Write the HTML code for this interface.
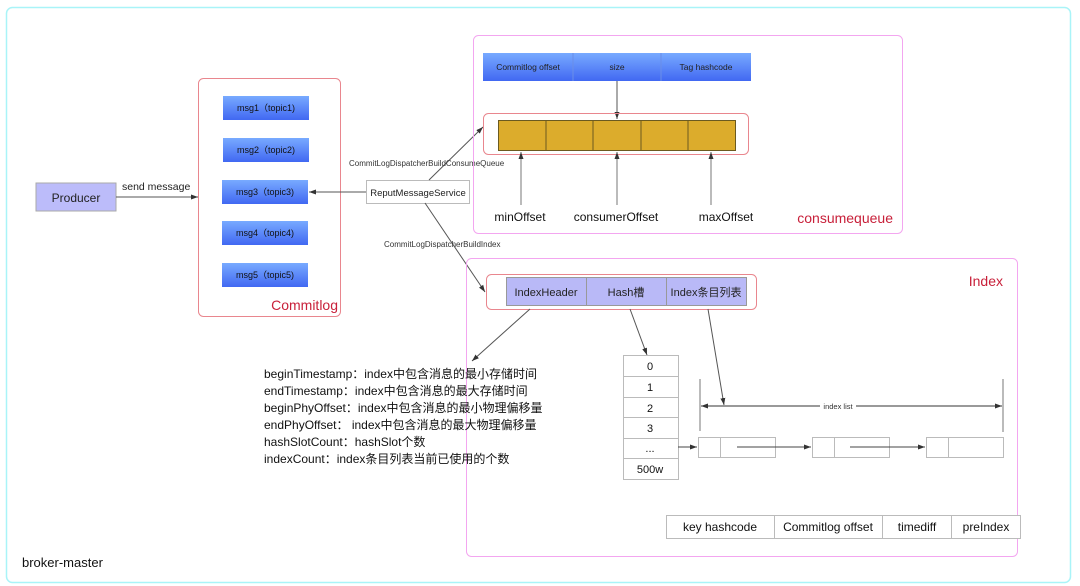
<!DOCTYPE html>
<html><head><meta charset="utf-8"><style>
html,body{margin:0;padding:0;background:#fff;}
svg{display:block;font-family:"Liberation Sans","Noto Sans CJK SC",sans-serif;}
</style></head><body>
<svg width="1080" height="586" viewBox="0 0 1080 586" xmlns="http://www.w3.org/2000/svg">
<defs>
<linearGradient id="bl" x1="0" y1="0" x2="0" y2="1"><stop offset="0" stop-color="#78aaff"/><stop offset="1" stop-color="#4168f2"/></linearGradient>
<marker id="ar" markerWidth="8" markerHeight="8" refX="7" refY="4" orient="auto" markerUnits="userSpaceOnUse"><path d="M0,1.5 L7,4 L0,6.5z" fill="#333"/></marker>
</defs>
<rect x="0" y="0" width="1080" height="586" fill="#fff"/>
<rect x="6.5" y="7.5" width="1064" height="575" rx="6" fill="none" stroke="#a9f4f8" stroke-width="1.5"/>

<!-- Producer -->
<rect x="36" y="183" width="80" height="28" fill="#bcbcfa" stroke="#aaa"/>
<text x="76" y="202" font-size="12" text-anchor="middle" fill="#222">Producer</text>
<text x="122" y="190" font-size="10.5" fill="#222">send message</text>
<line x1="116" y1="197" x2="198" y2="197" stroke="#555" marker-end="url(#ar)"/>

<!-- Commitlog -->
<rect x="198.5" y="78.5" width="142" height="238" rx="5" fill="none" stroke="#e9868e"/>
<g font-size="9" fill="#111" text-anchor="middle">
<rect x="223" y="96" width="86" height="24" fill="url(#bl)"/><text x="266" y="111">msg1（topic1)</text>
<rect x="223" y="138" width="86" height="24" fill="url(#bl)"/><text x="266" y="153">msg2（topic2)</text>
<rect x="222" y="180" width="86" height="24" fill="url(#bl)"/><text x="265" y="195">msg3（topic3)</text>
<rect x="222" y="221" width="86" height="24" fill="url(#bl)"/><text x="265" y="236">msg4（topic4)</text>
<rect x="222" y="263" width="86" height="24" fill="url(#bl)"/><text x="265" y="278">msg5（topic5)</text>
</g>
<text x="338" y="310" font-size="14" fill="#c8203a" text-anchor="end">Commitlog</text>

<!-- Reput -->
<rect x="366.5" y="180.5" width="103" height="23" fill="#fff" stroke="#bbb"/>
<text x="418" y="196" font-size="9.5" text-anchor="middle" fill="#222">ReputMessageService</text>
<line x1="366" y1="192" x2="309" y2="192" stroke="#555" marker-end="url(#ar)"/>
<line x1="429" y1="180" x2="483" y2="127" stroke="#555" marker-end="url(#ar)"/>
<line x1="425" y1="203" x2="485" y2="292" stroke="#555" marker-end="url(#ar)"/>
<text x="349" y="166" font-size="8" fill="#333">CommitLogDispatcherBuildConsumeQueue</text>
<text x="384" y="247" font-size="8" fill="#333">CommitLogDispatcherBuildIndex</text>

<!-- consumequeue -->
<rect x="473.5" y="35.5" width="429" height="198" rx="5" fill="none" stroke="#f3a6f0"/>
<rect x="483" y="53" width="268" height="28" fill="url(#bl)"/>
<line x1="573" y1="53" x2="573" y2="81" stroke="#6a8ee8"/><line x1="661" y1="53" x2="661" y2="81" stroke="#6a8ee8"/>
<g font-size="8.5" fill="#222" text-anchor="middle">
<text x="528" y="70">Commitlog offset</text><text x="617" y="70">size</text><text x="706" y="70">Tag hashcode</text></g>
<line x1="617" y1="81" x2="617" y2="119" stroke="#555" marker-end="url(#ar)"/>
<rect x="483.5" y="113.5" width="265" height="41" rx="5" fill="none" stroke="#e9868e"/>
<rect x="498.5" y="120.5" width="237" height="30" fill="#dcac2c" stroke="#6b5a20"/>
<g stroke="#6b5a20"><line x1="546" y1="120" x2="546" y2="151"/><line x1="593" y1="120" x2="593" y2="151"/><line x1="641" y1="120" x2="641" y2="151"/><line x1="688" y1="120" x2="688" y2="151"/></g>
<g stroke="#777"><line x1="521" y1="205" x2="521" y2="152" marker-end="url(#ar)"/><line x1="617" y1="205" x2="617" y2="152" marker-end="url(#ar)"/><line x1="711" y1="205" x2="711" y2="152" marker-end="url(#ar)"/></g>
<g font-size="12" fill="#111" text-anchor="middle"><text x="520" y="221">minOffset</text><text x="616" y="221">consumerOffset</text><text x="726" y="221">maxOffset</text></g>
<text x="893" y="223" font-size="14" fill="#c8203a" text-anchor="end">consumequeue</text>

<!-- Index -->
<rect x="466.5" y="258.5" width="551" height="298" rx="5" fill="none" stroke="#f3a6f0"/>
<text x="1003" y="286" font-size="14" fill="#c8203a" text-anchor="end">Index</text>
<rect x="486.5" y="274.5" width="270" height="35" rx="5" fill="none" stroke="#e9868e"/>
<rect x="506.5" y="277.5" width="240" height="28" fill="#b9b9f7" stroke="#999"/>
<line x1="586.5" y1="277" x2="586.5" y2="306" stroke="#999"/><line x1="666.5" y1="277" x2="666.5" y2="306" stroke="#999"/>
<g font-size="11" fill="#222" text-anchor="middle"><text x="546" y="296">IndexHeader</text><text x="626" y="296">Hash槽</text><text x="706" y="296">Index条目列表</text></g>
<line x1="530" y1="309" x2="472" y2="361" stroke="#555" marker-end="url(#ar)"/>
<line x1="630" y1="309" x2="647" y2="355" stroke="#555" marker-end="url(#ar)"/>
<line x1="708" y1="309" x2="724" y2="405" stroke="#555" marker-end="url(#ar)"/>

<g font-size="12" fill="#111">
<text x="264" y="378">beginTimestamp：index中包含消息的最小存储时间</text>
<text x="264" y="395">endTimestamp：index中包含消息的最大存储时间</text>
<text x="264" y="412">beginPhyOffset：index中包含消息的最小物理偏移量</text>
<text x="264" y="429">endPhyOffset： index中包含消息的最大物理偏移量</text>
<text x="264" y="446">hashSlotCount：hashSlot个数</text>
<text x="264" y="463">indexCount：index条目列表当前已使用的个数</text>
</g>

<!-- hash table -->
<rect x="623.5" y="355.5" width="55" height="124" fill="#fff" stroke="#bbb"/>
<g stroke="#bbb"><line x1="623" y1="376.5" x2="678" y2="376.5"/><line x1="623" y1="397.5" x2="678" y2="397.5"/><line x1="623" y1="417.5" x2="678" y2="417.5"/><line x1="623" y1="438.5" x2="678" y2="438.5"/><line x1="623" y1="458.5" x2="678" y2="458.5"/></g>
<g font-size="11" fill="#111" text-anchor="middle"><text x="650" y="370">0</text><text x="650" y="391">1</text><text x="650" y="412">2</text><text x="650" y="432">3</text><text x="650" y="452">...</text><text x="650" y="473">500w</text></g>

<!-- index list -->
<g stroke="#777"><line x1="700" y1="379" x2="700" y2="431"/><line x1="1003" y1="379" x2="1003" y2="432"/></g>
<line x1="820" y1="406" x2="701" y2="406" stroke="#333" marker-end="url(#ar)"/>
<line x1="856" y1="406" x2="1002" y2="406" stroke="#333" marker-end="url(#ar)"/>
<text x="838" y="409" font-size="7.5" fill="#333" text-anchor="middle">index list</text>
<g fill="#fff" stroke="#bbb">
<rect x="698.5" y="437.5" width="77" height="20"/><line x1="720.5" y1="437" x2="720.5" y2="458"/>
<rect x="812.5" y="437.5" width="77" height="20"/><line x1="834.5" y1="437" x2="834.5" y2="458"/>
<rect x="926.5" y="437.5" width="77" height="20"/><line x1="948.5" y1="437" x2="948.5" y2="458"/>
</g>
<g stroke="#444"><line x1="678" y1="447" x2="697" y2="447" marker-end="url(#ar)"/><line x1="737" y1="447" x2="811" y2="447" marker-end="url(#ar)"/><line x1="850" y1="447" x2="925" y2="447" marker-end="url(#ar)"/></g>

<!-- bottom table -->
<rect x="666.5" y="515.5" width="354" height="23" fill="#fff" stroke="#bbb"/>
<g stroke="#bbb"><line x1="774.5" y1="515" x2="774.5" y2="539"/><line x1="882.5" y1="515" x2="882.5" y2="539"/><line x1="951.5" y1="515" x2="951.5" y2="539"/></g>
<g font-size="12" fill="#111" text-anchor="middle"><text x="720" y="531">key hashcode</text><text x="828" y="531">Commitlog offset</text><text x="917" y="531">timediff</text><text x="986" y="531">preIndex</text></g>

<text x="22" y="567" font-size="13" fill="#111">broker-master</text>
</svg>
</body></html>
